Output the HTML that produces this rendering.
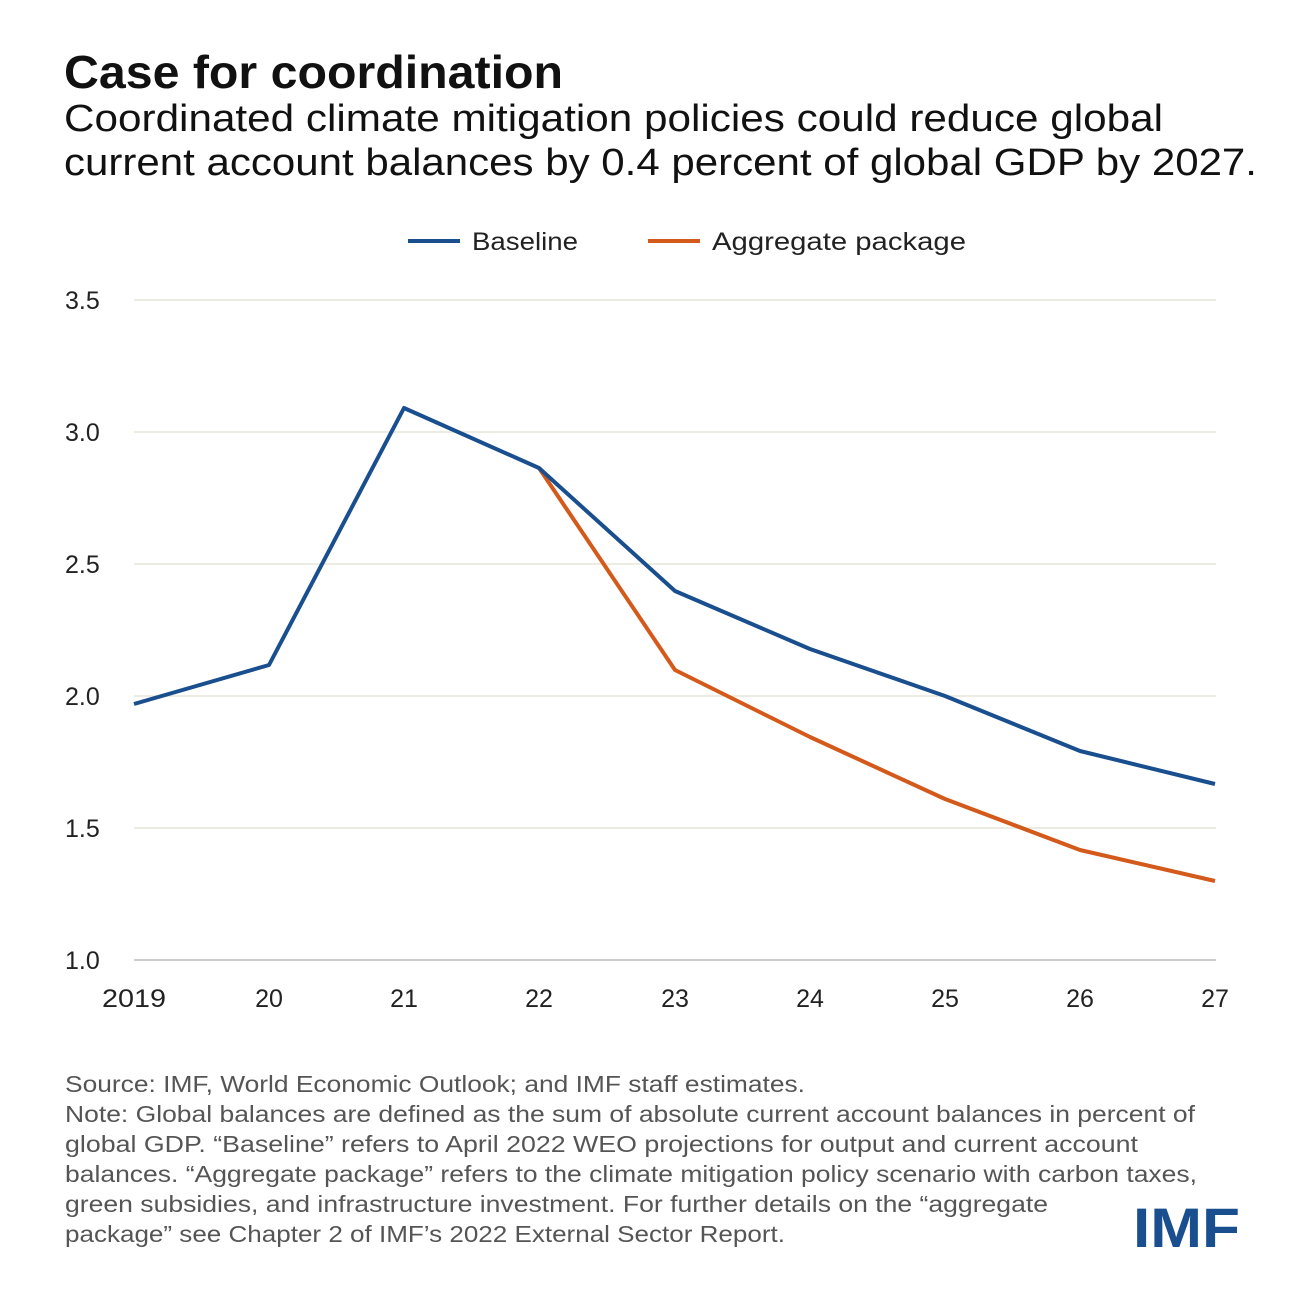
<!DOCTYPE html>
<html><head><meta charset="utf-8"><style>
body{margin:0;background:#fff;width:1300px;height:1300px;overflow:hidden;font-family:"Liberation Sans",sans-serif;}
</style></head><body>
<svg width="1300" height="1300" xmlns="http://www.w3.org/2000/svg" font-family="Liberation Sans, sans-serif">
<text x="64" y="88" font-size="46" font-weight="bold" fill="#111" textLength="499" lengthAdjust="spacingAndGlyphs">Case for coordination</text>
<text x="64" y="131" font-size="38" fill="#111" textLength="1099" lengthAdjust="spacingAndGlyphs">Coordinated climate mitigation policies could reduce global</text>
<text x="64" y="175" font-size="38" fill="#111" textLength="1193" lengthAdjust="spacingAndGlyphs">current account balances by 0.4 percent of global GDP by 2027.</text>
<line x1="408" y1="241" x2="460" y2="241" stroke="#1a4f8f" stroke-width="4"/>
<text x="472" y="250" font-size="25" fill="#222" textLength="106" lengthAdjust="spacingAndGlyphs">Baseline</text>
<line x1="648" y1="241" x2="700" y2="241" stroke="#d35a1b" stroke-width="4"/>
<text x="712" y="250" font-size="25" fill="#222" textLength="254" lengthAdjust="spacingAndGlyphs">Aggregate package</text>
<g stroke="#e6e6da" stroke-width="1.5">
<line x1="134" y1="300" x2="1216" y2="300"/><line x1="134" y1="432" x2="1216" y2="432"/>
<line x1="134" y1="564" x2="1216" y2="564"/><line x1="134" y1="696" x2="1216" y2="696"/>
<line x1="134" y1="828" x2="1216" y2="828"/>
</g>
<line x1="134" y1="960" x2="1216" y2="960" stroke="#bbb" stroke-width="1.5"/>
<g font-size="25" fill="#222">
<text x="65" y="309">3.5</text><text x="65" y="441">3.0</text><text x="65" y="573">2.5</text>
<text x="65" y="705">2.0</text><text x="65" y="837">1.5</text><text x="65" y="969">1.0</text>
</g>
<g font-size="25" fill="#222" text-anchor="middle">
<text x="134" y="1007" textLength="64" lengthAdjust="spacingAndGlyphs">2019</text><text x="269" y="1007">20</text><text x="404" y="1007">21</text>
<text x="539" y="1007">22</text><text x="675" y="1007">23</text><text x="810" y="1007">24</text>
<text x="945" y="1007">25</text><text x="1080" y="1007">26</text><text x="1215" y="1007">27</text>
</g>
<polyline fill="none" stroke="#d35a1b" stroke-width="4" stroke-linejoin="round" points="539,468 675,670 810,737 945,799 1080,850 1215,881"/>
<polyline fill="none" stroke="#1a4f8f" stroke-width="4" stroke-linejoin="round" points="134,704 269,665 404,408 539,468 675,591 810,649 945,696 1080,751 1215,784"/>
<g font-size="23" fill="#555" lengthAdjust="spacingAndGlyphs">
<text x="65" y="1092" textLength="740" lengthAdjust="spacingAndGlyphs">Source: IMF, World Economic Outlook; and IMF staff estimates.</text>
<text x="65" y="1122" textLength="1130" lengthAdjust="spacingAndGlyphs">Note: Global balances are defined as the sum of absolute current account balances in percent of</text>
<text x="65" y="1152" textLength="1073" lengthAdjust="spacingAndGlyphs">global GDP. “Baseline” refers to April 2022 WEO projections for output and current account</text>
<text x="65" y="1182" textLength="1132" lengthAdjust="spacingAndGlyphs">balances. “Aggregate package” refers to the climate mitigation policy scenario with carbon taxes,</text>
<text x="65" y="1212" textLength="983" lengthAdjust="spacingAndGlyphs">green subsidies, and infrastructure investment. For further details on the “aggregate</text>
<text x="65" y="1242" textLength="720" lengthAdjust="spacingAndGlyphs">package” see Chapter 2 of IMF’s 2022 External Sector Report.</text>
</g>
<text x="1133" y="1247" font-size="56" font-weight="bold" fill="#1a4f8f" textLength="107" lengthAdjust="spacingAndGlyphs">IMF</text>
</svg>
</body></html>
